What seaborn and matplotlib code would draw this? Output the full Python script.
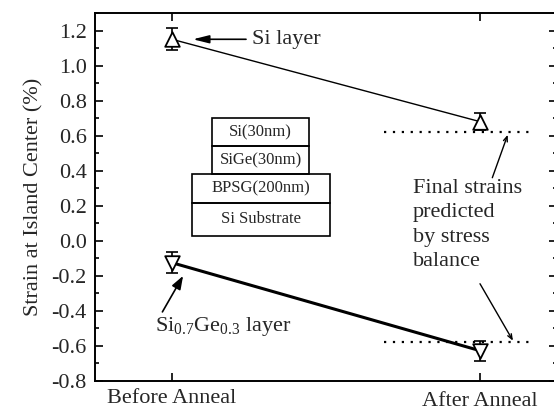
import matplotlib
matplotlib.use("Agg")
import matplotlib.pyplot as plt
import seaborn as sns
import pandas as pd
import numpy as np
from matplotlib.patches import Rectangle
from matplotlib.ticker import MultipleLocator
from matplotlib.transforms import ScaledTranslation

# ---- data ----
stages = ["Before Anneal", "After Anneal"]
stage_pos = [0, 1]
si_strain = [1.15, 0.68]
si_err = [0.063, 0.05]
sige_strain = [-0.125, -0.627]
sige_err = [0.06, 0.058]
pred_si = 0.62
pred_sige = -0.575
pred_x = [0.688, 1.18]
y_ticks = [-0.8, -0.6, -0.4, -0.2, 0.0, 0.2, 0.4, 0.6, 0.8, 1.0, 1.2]

sns.set_theme(style="ticks")
plt.rcParams["font.family"] = ["Liberation Serif", "DejaVu Serif"]
plt.rcParams["mathtext.fontset"] = "custom"
plt.rcParams["mathtext.rm"] = "Liberation Serif"
plt.rcParams["mathtext.it"] = "Liberation Serif:italic"

df = pd.DataFrame({
    "x": stage_pos * 2,
    "strain": si_strain + sige_strain,
    "layer": ["Si"] * 2 + ["SiGe"] * 2,
})

fig = plt.figure(figsize=(5.54, 4.11), dpi=100)
ax = fig.add_axes([95 / 554, 30 / 411, 462 / 554, 368 / 411])

sns.lineplot(data=df[df.layer == "Si"], x="x", y="strain", ax=ax,
             color="black", lw=1.0, legend=False, zorder=2)
sns.lineplot(data=df[df.layer == "SiGe"], x="x", y="strain", ax=ax,
             color="black", lw=2.2, legend=False, zorder=2)

ax.errorbar(stage_pos, si_strain, yerr=si_err, fmt="none", ecolor="black",
            elinewidth=1.2, capsize=4, capthick=1.2, zorder=3)
ax.errorbar(stage_pos, sige_strain, yerr=sige_err, fmt="none", ecolor="black",
            elinewidth=1.2, capsize=4, capthick=1.2, zorder=3)
sns.scatterplot(x=stage_pos, y=si_strain, marker="^", s=110, facecolor="white",
                edgecolor="black", linewidth=1.3, ax=ax, zorder=4, legend=False)
sns.scatterplot(x=stage_pos, y=sige_strain, marker="v", s=110, facecolor="white",
                edgecolor="black", linewidth=1.3, ax=ax, zorder=4, legend=False)

# predicted dotted lines
ax.plot(pred_x, [pred_si, pred_si], color="black", lw=1.6, ls=(0, (1, 3)),
        zorder=1)
ax.plot(pred_x, [pred_sige, pred_sige], color="black", lw=1.6, ls=(0, (1, 3)),
        zorder=1)

ax.set_xlim(-0.25, 1.25)
ax.set_ylim(-0.8, 1.3)
ax.set_xticks(stage_pos)
ax.set_xticklabels(stages)
ax.set_yticks(y_ticks)
ax.set_yticklabels([f"{v:.1f}" for v in y_ticks])
ax.yaxis.set_minor_locator(MultipleLocator(0.1))
ax.tick_params(axis="both", which="both", direction="in", top=True,
               right=True, labelsize=16, width=1.2, color="black")
ax.tick_params(axis="y", which="major", length=6, pad=6)
ax.tick_params(axis="y", which="minor", length=3)
ax.tick_params(axis="x", which="major", length=6, pad=6)
ax.set_xlabel("")
ax.set_ylabel("Strain at Island Center (%)", fontsize=16, labelpad=6)
for sp in ax.spines.values():
    sp.set_linewidth(1.4)
    sp.set_color("black")
# the "After Anneal" label sits a little lower in the original
lbls = ax.get_xticklabels()
lbls[1].set_transform(lbls[1].get_transform() +
                      ScaledTranslation(0, -3 / 100, fig.dpi_scale_trans))

# annotations
ax.annotate("Si layer", xy=(0.068, 1.15), xytext=(0.26, 1.15),
            fontsize=16, va="center", ha="left",
            arrowprops=dict(arrowstyle="-|>,head_length=0.6,head_width=0.15",
                            color="black", lw=1.2, shrinkA=2, shrinkB=0))
ax.annotate(r"Si$_{0.7}$Ge$_{0.3}$ layer", xy=(0.036, -0.2),
            xytext=(-0.055, -0.49), fontsize=16, va="center", ha="left",
            arrowprops=dict(arrowstyle="-|>,head_length=0.5,head_width=0.18",
                            color="black", lw=1.2, shrinkA=0, shrinkB=0,
                            relpos=(0.04, 1.0)))
ax.text(0.782, 0.355, "Final strains\npredicted\nby stress\nbalance",
        fontsize=16, va="top", ha="left", linespacing=1.4)
ax.annotate("", xy=(1.09, 0.605), xytext=(1.04, 0.36),
            arrowprops=dict(arrowstyle="->,head_length=0.3,head_width=0.12",
                            color="black", lw=1.0, shrinkA=0, shrinkB=0))
ax.annotate("", xy=(1.107, -0.57), xytext=(1.0, -0.245),
            arrowprops=dict(arrowstyle="->,head_length=0.3,head_width=0.12",
                            color="black", lw=1.0, shrinkA=0, shrinkB=0))

# inset layer stack
boxes = [
    ("Si(30nm)", 0.130, 0.445, 0.54, 0.70),
    ("SiGe(30nm)", 0.130, 0.445, 0.382, 0.54),
    ("BPSG(200nm)", 0.065, 0.513, 0.217, 0.382),
    ("Si Substrate", 0.065, 0.513, 0.028, 0.217),
]
for label, x0, x1, y0, y1 in boxes:
    ax.add_patch(Rectangle((x0, y0), x1 - x0, y1 - y0, fill=False,
                           edgecolor="black", lw=1.2, zorder=2))
    ax.text((x0 + x1) / 2, (y0 + y1) / 2, label, ha="center", va="center",
            fontsize=12)

fig.savefig("out.png", dpi=100)
